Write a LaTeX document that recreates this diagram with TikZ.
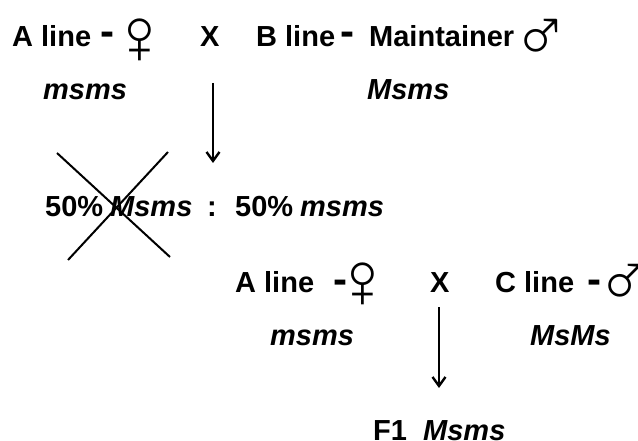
\documentclass[tikz,border=0pt]{standalone}
\usepackage{fontspec}
\setmainfont{Liberation Sans}
\newfontfamily\symfont{Liberation Mono}
\usetikzlibrary{arrows.meta}
\begin{document}
\begin{tikzpicture}[x=1pt,y=-1pt,
  lbl/.style={inner sep=0pt, anchor=base west, font=\fontsize{29}{30}\selectfont\bfseries},
  geno/.style={inner sep=0pt, anchor=base west, font=\fontsize{29}{30}\selectfont\bfseries\itshape},
  dashmark/.style={inner sep=0pt, anchor=base, font=\fontsize{42}{42}\selectfont\bfseries},
  sym/.style={inner sep=0pt, anchor=center, font=\fontsize{78}{78}\symfont},
  strike/.style={line width=2pt},
  arr/.style={line width=2pt, -{Straight Barb[length=9pt,width=13pt,line width=2.4pt]}}]
\useasboundingbox (0,0) rectangle (638,441);
% row 1
\node[lbl] (aline1) at (12,47) {A line};
\node[dashmark] (dash1) at (107.5,45.5) {-};
\node[sym] (fem1) at (140,41) {♀};
\node[lbl] (x1) at (200,47) {X};
\node[lbl] (bline) at (256,47) {B line};
\node[dashmark] (dash2) at (347,45.5) {-};
\node[lbl] (maint) at (369,47) {Maintainer};
\node[sym] (male1) at (542,38) {♂};
% row 2
\node[geno] (g1) at (43,100) {msms};
\node[geno] (g2) at (367,100) {Msms};
% arrow 1
\coordinate (a1s) at (213,83);
\coordinate (a1e) at (213,163);
\draw[arr] (a1s) -- (a1e);
% row 3
\node[lbl] (p1) at (45,217) {50\%};
\node[geno] (p1g) at (110,217) {Msms};
\node[lbl] (colon) at (207,217) {:};
\node[lbl] (p2) at (235,217) {50\%};
\node[geno] (p2g) at (300,217) {msms};
% strike-out cross
\coordinate (c1) at (57,153);
\coordinate (c2) at (170,257);
\coordinate (c3) at (168,152);
\coordinate (c4) at (68,260);
\draw[strike] (c1) -- (c2);
\draw[strike] (c3) -- (c4);
% row 4
\node[lbl] (aline2) at (235,292) {A line};
\node[dashmark] (dash3) at (340,294) {-};
\node[sym] (fem2) at (363,285) {♀};
\node[lbl] (x2) at (430,292) {X};
\node[lbl] (cline) at (495,292) {C line};
\node[dashmark] (dash4) at (594,294) {-};
\node[sym] (male2) at (626,283) {♂};
% row 5
\node[geno] (g3) at (270,345) {msms};
\node[geno] (g4) at (530,345) {MsMs};
% arrow 2
\coordinate (a2s) at (439,307);
\coordinate (a2e) at (439,388);
\draw[arr] (a2s) -- (a2e);
% row 6
\node[lbl] (f1) at (373,440) {F1};
\node[geno] (f1g) at (423,440) {Msms};
\end{tikzpicture}
\end{document}
